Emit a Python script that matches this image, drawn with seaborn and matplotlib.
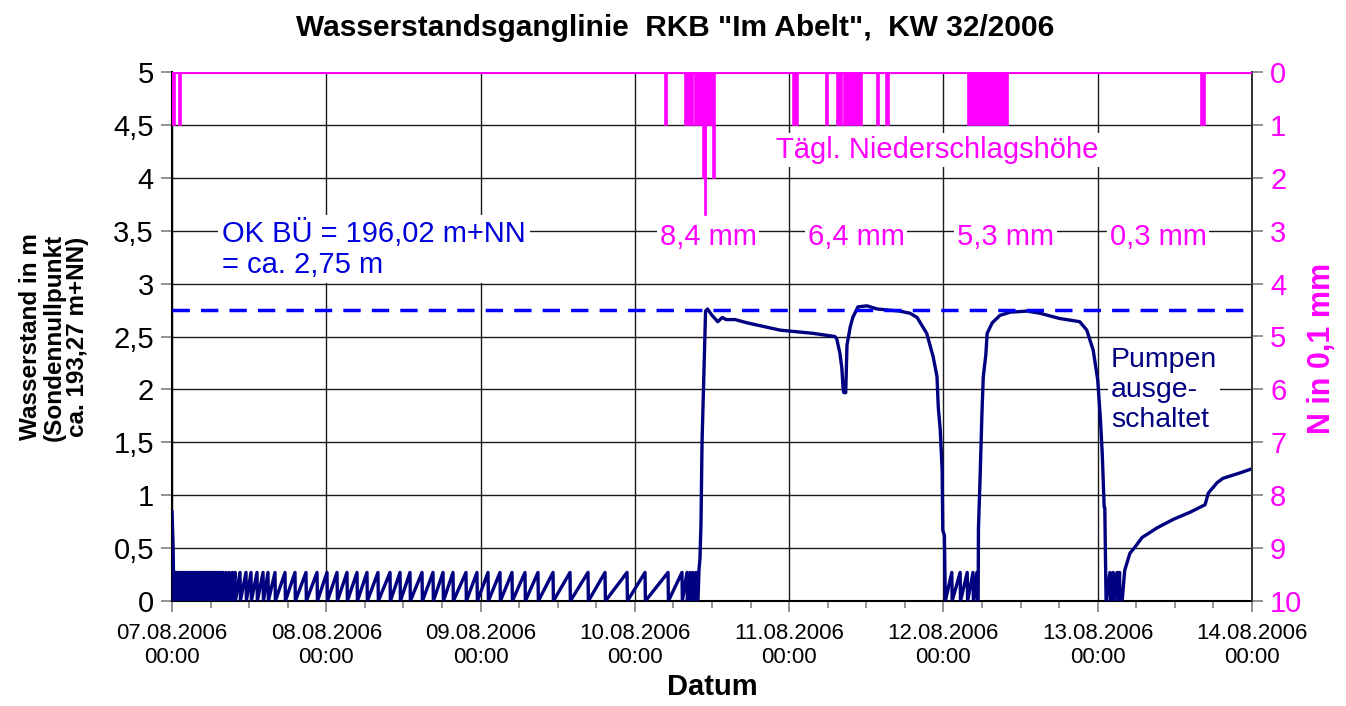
import numpy as np
import pandas as pd
import matplotlib
matplotlib.use("Agg")
import matplotlib.pyplot as plt
import matplotlib.dates as mdates
from matplotlib.ticker import MultipleLocator, FuncFormatter
import seaborn as sns

# ---------------- data (hours since 07.08.2006 00:00) ----------------
start = pd.Timestamp("2006-08-07 00:00")

# pump cycle: peak times of the saw-tooth (pump switches off -> level drops to 0)
pump_peak_hours = [0.55, 0.85, 1.15, 1.45, 1.75, 2.05, 2.35, 2.65, 2.95, 3.25, 3.55,
                   3.85, 4.15, 4.45, 4.75, 5.05, 5.35, 5.65, 5.95, 6.25, 6.55,
                   6.85, 7.16, 7.55, 7.93, 8.40, 8.87, 9.35, 9.80, 10.58, 11.51,
                   12.29, 13.22, 14.16, 14.93, 16.02, 17.58, 19.13, 20.84, 22.56,
                   24.11, 25.67, 27.22, 28.78, 30.33, 32.04, 33.91, 35.47, 37.02,
                   38.89, 40.60, 42.16, 43.71, 45.73, 47.44, 49.16, 51.02, 52.89,
                   54.91, 56.93, 59.27, 61.91, 64.71, 67.36, 70.78, 73.58, 77.16,
                   79.33, 80.11, 80.58, 81.04, 81.51,
                   121.3, 122.6, 123.7, 124.6, 125.2,
                   145.9, 146.4, 147.0, 147.4]
pump_peak_level = 0.27

# water level curve outside the pump cycles
level_hours = [0.0, 0.16, 0.30,
               81.82, 81.98, 82.13, 82.29, 82.45, 83.0, 83.3, 84.0, 84.9, 85.6,
               86.2, 87.6, 89.4, 94.6, 99.7, 103.1, 103.4, 103.9, 104.2, 104.4,
               104.5, 104.8, 105.0, 105.5, 105.9, 106.7, 108.1, 109.7, 113.2,
               114.8, 115.9, 117.4, 118.4, 119.0, 119.2, 119.5, 119.8, 119.9,
               120.15, 120.3,
               125.4, 125.45, 125.7, 126.0, 126.2, 126.6, 126.8, 127.6, 128.8,
               130.4, 133.0, 135.0, 138.1, 141.2, 142.3, 143.3, 144.0, 144.4,
               144.7, 145.0, 145.1, 145.3,
               147.8, 148.2, 149.0, 149.8, 150.9, 153.2, 155.7, 158.4, 160.7,
               161.2, 162.6, 163.5, 166.1, 168.0]
level_m = [0.85, 0.55, 0.0,
           0.0, 0.30, 0.40, 0.74, 1.50, 2.74, 2.76, 2.70, 2.64, 2.68,
           2.66, 2.66, 2.63, 2.56, 2.53, 2.50, 2.48, 2.34, 2.20, 2.00,
           1.97, 1.97, 2.42, 2.59, 2.68, 2.78, 2.79, 2.76, 2.74,
           2.72, 2.68, 2.53, 2.31, 2.12, 1.83, 1.62, 1.24, 0.67,
           0.62, 0.0,
           0.0, 0.69, 1.16, 1.79, 2.12, 2.33, 2.53, 2.63, 2.70,
           2.73, 2.74, 2.72, 2.67, 2.64, 2.56, 2.37, 2.09, 1.74,
           1.40, 0.89, 0.88, 0.0,
           0.0, 0.29, 0.45, 0.51, 0.60, 0.69, 0.77, 0.84, 0.91,
           1.02, 1.12, 1.16, 1.21, 1.25]

# precipitation (0.1 mm per interval)
rain_start_hours = [0.0, 1.1, 76.7, 79.8, 81.4, 82.6, 82.9, 84.1, 96.6, 101.8,
                    103.4, 104.5, 109.7, 111.1, 123.8, 160.1]
rain_end_hours = [0.5, 1.4, 77.0, 81.0, 84.0, 83.1, 83.0, 84.5, 97.4, 102.0,
                  104.2, 107.3, 109.9, 111.5, 130.0, 160.7]
rain_values = [1, 1, 1, 1, 1, 2, 2.7, 2, 1, 1, 1, 1, 1, 1, 1, 1]

day_ticks = ["07.08.2006\n00:00", "08.08.2006\n00:00", "09.08.2006\n00:00",
             "10.08.2006\n00:00", "11.08.2006\n00:00", "12.08.2006\n00:00",
             "13.08.2006\n00:00", "14.08.2006\n00:00"]
daily_totals = ["8,4 mm", "6,4 mm", "5,3 mm", "0,3 mm"]
daily_total_hours = [83.4, 106.4, 129.6, 153.4]
ok_bu_level = 2.75

# ---------------- build level series ----------------
pts = list(zip(level_hours, level_m))
for t in pump_peak_hours:
    pts.append((t, pump_peak_level))
    pts.append((t + 0.06, 0.0))
pts.sort(key=lambda p: p[0])
df = pd.DataFrame(pts, columns=["h", "level"])
df["time"] = start + pd.to_timedelta(df["h"], unit="h")

rain = pd.DataFrame({"t0": rain_start_hours, "t1": rain_end_hours, "v": rain_values})
rain["time"] = start + pd.to_timedelta(rain["t0"], unit="h")
rain["width"] = (rain["t1"] - rain["t0"]) / 24.0

def hdt(h):
    return start + pd.Timedelta(hours=h)

# ---------------- figure ----------------
sns.set_theme(style="white")
plt.rcParams["font.family"] = ["Liberation Sans", "DejaVu Sans"]
plt.rcParams["text.color"] = "black"
plt.rcParams["axes.labelcolor"] = "black"
plt.rcParams["xtick.color"] = "black"
plt.rcParams["ytick.color"] = "black"

W, H = 1346, 706
fig = plt.figure(figsize=(W / 100, H / 100), dpi=100)
ax = fig.add_axes([172 / W, 1 - 601 / H, 1080 / W, 529 / H])

NAVY = "#000080"
MAG = "#FF00FF"

sns.lineplot(data=df, x="time", y="level", ax=ax, color=NAVY, lw=2.4,
             estimator=None, sort=False, zorder=3)
ax.axhline(ok_bu_level, color="#0000FF", lw=2.5, ls=(0, (5, 3.2)), zorder=3)

ax.set_xlim(hdt(0), hdt(168))
ax.set_ylim(0, 5)
ax.yaxis.set_major_locator(MultipleLocator(0.5))
ax.yaxis.set_major_formatter(FuncFormatter(lambda v, p: f"{v:g}".replace(".", ",")))
ax.set_xticks([hdt(24 * i) for i in range(8)])
ax.set_xticklabels(day_ticks)
ax.xaxis.set_minor_locator(mdates.HourLocator(byhour=[6, 12, 18]))
ax.grid(True, which="major", color="#1a1a1a", lw=1.0)
ax.set_axisbelow(True)
ax.tick_params(axis="y", which="major", labelsize=21, length=8, width=1.2,
               color="#808080", direction="out", left=True, pad=5)
ax.tick_params(axis="x", which="major", labelsize=16, length=8, width=1.2,
               color="#808080", direction="out", bottom=True, pad=8)
ax.tick_params(axis="x", which="minor", length=5, width=1.2, color="#808080",
               direction="out", bottom=True)
ax.set_xlabel("Datum", fontsize=21, fontweight="bold", labelpad=3)
ax.set_ylabel("")
for s in ["left", "bottom"]:
    ax.spines[s].set_color("#000000")
    ax.spines[s].set_linewidth(1.5)
ax.spines["top"].set_visible(False)
ax.spines["right"].set_color("#333333")

# precipitation axis
ax2 = ax.twinx()
ax2.bar(rain["time"], rain["v"], width=rain["width"], align="edge",
        color=MAG, edgecolor=MAG, linewidth=1.2, zorder=2)
ax2.axhline(0, color=MAG, lw=3, zorder=3)
ax2.set_ylim(10, 0)
ax2.set_xlim(hdt(0), hdt(168))
ax2.yaxis.set_major_locator(MultipleLocator(1))
ax2.tick_params(axis="y", labelsize=21, labelcolor=MAG, length=8, width=1.2,
                color="#808080", direction="out", right=True, pad=5)
ax2.set_ylabel("")
ax2.grid(False)
for s in ["top", "left", "bottom"]:
    ax2.spines[s].set_visible(False)
ax2.spines["right"].set_color("#333333")

# annotations
box = dict(facecolor="white", edgecolor="none", pad=2)
ax2.text(hdt(119.0), 1.47, "Tägl. Niederschlagshöhe", color=MAG, fontsize=21,
         ha="center", va="center", bbox=box, zorder=5)
for lab, h in zip(daily_totals, daily_total_hours):
    ax2.text(hdt(h), 3.12, lab, color=MAG, fontsize=21, ha="center", va="center",
             bbox=box, zorder=5)
fig.text(222 / W, 1 - 249 / H, "OK BÜ = 196,02 m+NN\n= ca. 2,75 m", color="#0000DD",
         fontsize=21, ha="left", va="center", linespacing=1.1,
         bbox=dict(facecolor="white", edgecolor="none", pad=3), zorder=10)
fig.text(1111 / W, 1 - 390 / H, "Pumpen\nausge-\nschaltet", color=NAVY,
         fontsize=20.5, ha="left", va="center", linespacing=1.18,
         bbox=dict(facecolor="white", edgecolor="none", pad=2), zorder=10)

fig.text(675 / W, 1 - 28 / H, 'Wasserstandsganglinie  RKB "Im Abelt",  KW 32/2006',
         fontsize=21.5, fontweight="bold", ha="center", va="center")
fig.text(54 / W, 1 - 337 / H, "Wasserstand in m\n(Sondennullpunkt\nca. 193,27 m+NN)",
         fontsize=17.5, fontweight="bold", rotation=90, ha="center", va="center",
         multialignment="center", linespacing=1.05)
fig.text(1322 / W, 1 - 348 / H, "N in 0,1 mm", color=MAG, fontsize=22,
         fontweight="bold", rotation=90, ha="center", va="center")

fig.savefig("out.png", dpi=100, facecolor="white")
